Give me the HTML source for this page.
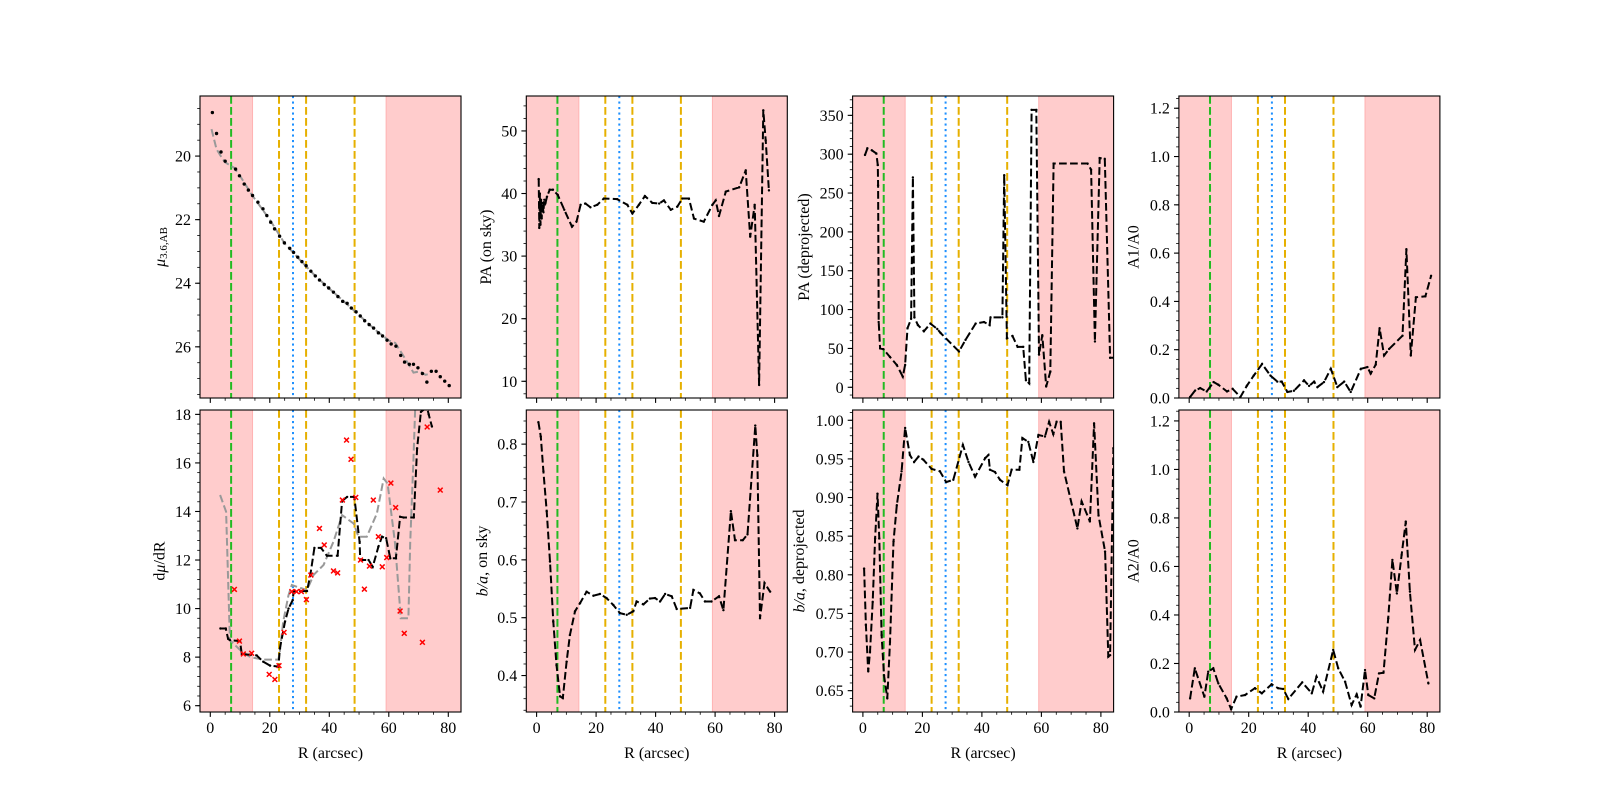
<!DOCTYPE html>
<html>
<head>
<meta charset="utf-8">
<style>
html,body{margin:0;padding:0;background:#fff;}
svg{display:block;}
text{font-family:"Liberation Serif","DejaVu Serif",serif;fill:#000;}
</style>
</head>
<body>
<svg id="fig" width="1600" height="800" viewBox="0 0 1600 800" xmlns="http://www.w3.org/2000/svg">
<rect x="0" y="0" width="1600" height="800" fill="#fff"/>
</svg>
<script>
// ---- shared markers (R in arcsec) ----
const shadeRegions = [[-10, 14.2], [59.1, 100]];
const greenLines = [7.0];
const orangeLines = [23.1, 32.2, 48.5];
const blueLines = [27.8];
const xMajorTicks = [0, 20, 40, 60, 80];

// ---- panel 1: surface brightness ----
const muPoints = [[0.7,18.63],[2.1,19.29],[3.6,19.87],[5.0,20.16],[8.5,20.41],[9.8,20.62],[11.4,20.88],[12.8,21.07],[14.2,21.24],[16.0,21.45],[17.7,21.66],[19.0,21.87],[20.3,22.08],[21.6,22.29],[23.3,22.52],[24.9,22.73],[26.7,22.90],[28.0,23.03],[29.4,23.18],[30.8,23.32],[32.2,23.45],[33.8,23.62],[35.3,23.77],[36.7,23.90],[38.3,24.04],[39.8,24.15],[41.4,24.28],[42.9,24.42],[44.5,24.57],[46.0,24.63],[47.4,24.78],[49.0,24.90],[50.4,25.03],[51.9,25.18],[53.4,25.30],[54.9,25.41],[56.5,25.56],[57.9,25.66],[59.4,25.79],[60.8,25.91],[62.4,25.98],[64.0,26.27],[65.3,26.48],[66.9,26.55],[68.3,26.55],[69.8,26.66],[71.3,26.84],[72.8,27.11],[74.3,26.77],[75.9,26.77],[77.3,26.94],[78.8,27.08],[80.3,27.22]];
const muModel = [[0.4,19.15],[2.1,19.78],[3.8,20.04],[5,20.2],[8,20.37],[10,20.62],[14,21.22],[20,22.0],[25,22.75],[30,23.25],[35,23.74],[40,24.17],[45,24.58],[50,25.0],[55,25.43],[60,25.8],[62.2,25.88],[65,26.3],[68.3,26.81],[70.6,26.77],[72.3,26.88],[74,26.85]];

// ---- panel 2: PA on sky ----
const paSky = [[0.7,42.3],[0.9,34.5],[1.1,40],[1.3,35],[1.5,39],[1.7,36],[2.0,38.5],[2.3,37],[2.6,39],[3.0,38.5],[3.5,39.5],[4.4,40.6],[5.5,40.6],[7.1,39.8],[9.3,37.4],[11.9,34.7],[13.4,35.5],[14.8,38.2],[16.4,38.4],[18.1,37.8],[20.4,38.2],[22.6,39.2],[27.1,39.1],[30.5,38.2],[32.2,36.8],[34.4,38.2],[36.4,39.6],[38.9,38.5],[41.2,38.4],[42.8,38.9],[45.1,37.4],[47.3,37.9],[49.0,39.2],[51.2,39.2],[52.9,36.0],[56.2,35.5],[59.1,38.2],[60.2,38.9],[61.3,36.4],[63.6,40.3],[68.1,41.0],[70.3,43.7],[71.8,33.1],[73.3,38.2],[74.8,9.4],[76.2,53.3],[77.0,48.5],[78.1,40.5]];

// ---- panel 3: PA deprojected ----
const paDeproj = [[0.7,299],[1.5,307.5],[3.0,305],[4.5,301],[5.0,286],[5.1,260],[5.3,84],[5.8,50],[6.9,49],[9.1,39],[11.4,28.7],[13.4,13.7],[14.2,28.7],[15.0,76],[16.2,88],[16.8,270],[17.3,90],[18.5,80],[20.5,72],[22.7,82],[25.0,75],[26.1,70],[32.3,46],[34.5,61],[37.9,82],[40.7,84],[42.6,80],[42.9,90],[46.9,90],[47.5,273],[48.4,63],[50.3,66],[52,52],[53.9,52],[54.8,9],[55.9,5],[56.7,357],[58.3,357],[59.2,42],[60.3,67],[61.6,1],[63.0,20],[64.1,288],[75.5,288],[76.7,280],[78.0,59],[79.6,295],[81.3,294],[83.1,38],[84.8,38]];

// ---- panel 4: A1/A0 ----
const a1a0 = [[0.3,0.004],[2.0,0.031],[3.7,0.041],[5.9,0.027],[8.2,0.066],[9.8,0.055],[12.7,0.027],[14.6,0.038],[17.2,0.004],[19.4,0.051],[21.7,0.093],[24.5,0.141],[27.3,0.093],[29.6,0.068],[31.1,0.068],[33.0,0.025],[35.2,0.03],[38.6,0.073],[40.3,0.05],[42.0,0.068],[43.1,0.045],[45.3,0.066],[47.6,0.121],[49.8,0.045],[52.1,0.068],[54.3,0.025],[57.7,0.121],[59.9,0.128],[61.0,0.101],[62.7,0.138],[64.0,0.289],[65.5,0.176],[67.2,0.203],[71.7,0.258],[73.0,0.616],[74.5,0.176],[76.2,0.417],[79.4,0.421],[81.3,0.506]];

// ---- panel 5: dmu/dR ----
const dmuStep = [[3.4,9.18],[5.2,9.18],[6.0,8.75],[6.6,8.7],[10.0,8.66],[10.6,8.12],[13.4,8.1],[15.6,8.07],[17.8,7.81],[20.1,7.65],[22.9,7.61],[23.4,8.36],[25.1,9.46],[26.3,10.0],[27.7,10.35],[28.0,10.72],[32.5,10.72],[33.6,11.38],[35.0,12.5],[37.2,12.5],[39.2,12.18],[42.8,12.18],[44.3,14.43],[46.0,14.6],[48.4,14.6],[50.2,12.75],[50.4,12.0],[53.2,12.0],[54.6,11.72],[56.5,12.55],[57.7,12.96],[59.1,12.9],[60.5,12.07],[62.4,12.07],[63.8,13.78],[65.0,13.75],[68.4,13.75],[69.5,16.6],[70.8,18.1],[72.8,18.3],[73.4,18.0],[74.5,17.5]];
const dmuModel = [[3.3,14.68],[5.3,13.99],[6.6,8.7],[10.0,8.3],[13.4,8.0],[17.8,7.9],[22.9,7.9],[23.4,8.25],[24.5,9.46],[26.3,10.55],[27.4,10.97],[29.0,10.9],[32.5,10.76],[34.7,11.38],[38.1,11.8],[41.4,12.76],[44.3,13.85],[48.2,13.5],[49.8,12.96],[52.6,12.96],[56.0,13.92],[58.3,15.36],[59.6,15.15],[62.1,12.7],[63.8,10.0],[64.0,9.6],[66.6,9.6],[67.2,12.7],[68.3,16.2],[68.9,18.4]];
const dmuRaw = [[8.1,10.79],[9.8,8.66],[11.1,8.13],[13.9,8.16],[19.8,7.29],[21.7,7.08],[23.1,7.65],[24.8,9.02],[27.4,10.7],[29.0,10.7],[30.6,10.7],[32.3,10.37],[33.8,11.38],[36.7,13.3],[38.3,12.62],[41.4,11.55],[42.8,11.47],[44.4,14.47],[45.8,16.94],[47.3,16.15],[48.9,14.58],[50.5,12.0],[51.8,10.8],[53.5,11.75],[54.8,14.47],[56.5,12.96],[57.8,11.72],[59.3,12.1],[60.7,15.17],[62.3,14.16],[63.8,9.9],[65.2,8.98],[71.3,8.61],[72.9,17.48],[77.3,14.88]];

// ---- panel 6: b/a on sky ----
const baSky = [[0.6,0.838],[1.4,0.813],[2.3,0.753],[3.4,0.684],[4.5,0.597],[5.6,0.493],[6.7,0.418],[7.9,0.364],[8.8,0.361],[10.1,0.424],[11.2,0.470],[12.9,0.511],[14.6,0.525],[16.8,0.545],[19.1,0.538],[21.3,0.541],[23.5,0.534],[25.8,0.522],[28.0,0.508],[30.3,0.505],[32.5,0.511],[33.6,0.528],[35.9,0.523],[38.1,0.533],[39.8,0.534],[41.5,0.528],[43.2,0.541],[45.4,0.537],[47.1,0.515],[51.6,0.517],[52.7,0.548],[54.9,0.542],[56.6,0.528],[58.8,0.528],[61.3,0.537],[62.8,0.513],[65.3,0.684],[66.7,0.634],[69.3,0.634],[70.9,0.644],[73.5,0.832],[74.2,0.781],[75.1,0.499],[76.6,0.56],[78.5,0.545]];

// ---- panel 7: b/a deprojected ----
const baDeproj = [[0.4,0.808],[1.0,0.735],[1.8,0.675],[2.4,0.70],[3.3,0.765],[4.1,0.847],[4.9,0.905],[5.5,0.847],[6.3,0.722],[7.1,0.67],[8.2,0.64],[9.1,0.713],[10.3,0.843],[11.4,0.89],[13.0,0.934],[14.2,0.99],[15.8,0.955],[17.2,0.946],[18.7,0.953],[20.3,0.949],[23.1,0.937],[25.9,0.934],[28.0,0.92],[30.4,0.923],[33.6,0.968],[35.5,0.946],[37.7,0.927],[41.1,0.951],[42.2,0.955],[42.7,0.936],[44.4,0.933],[46.1,0.923],[48.6,0.916],[50.0,0.936],[52.6,0.936],[53.6,0.977],[55.6,0.972],[57.3,0.946],[59.0,0.981],[61.2,0.979],[62.6,0.998],[64.0,0.982],[65.1,0.998],[66.5,0.998],[67.6,0.934],[72.1,0.86],[73.5,0.895],[76.3,0.869],[77.7,0.996],[79.2,0.877],[81.4,0.83],[82.5,0.694],[83.1,0.696],[84.2,0.964]];

// ---- panel 8: A2/A0 ----
const a2a0 = [[0.3,0.056],[1.9,0.18],[5.1,0.063],[6.4,0.166],[8.1,0.18],[9.8,0.118],[12.6,0.056],[14.1,0.012],[15.9,0.063],[18.8,0.07],[22.1,0.098],[24.4,0.077],[27.7,0.114],[29.9,0.098],[31.6,0.095],[33.3,0.054],[38.0,0.122],[41.2,0.077],[42.8,0.146],[45.0,0.084],[48.4,0.256],[50.1,0.18],[52.4,0.125],[54.6,0.029],[56.3,0.073],[57.6,0.022],[59.1,0.173],[60.2,0.07],[62.2,0.056],[63.8,0.159],[65.3,0.162],[66.9,0.386],[68.3,0.627],[69.8,0.489],[71.4,0.647],[72.8,0.785],[74.2,0.496],[75.9,0.256],[77.6,0.297],[80.4,0.118]];

const NS = 'http://www.w3.org/2000/svg';
const fig = document.getElementById('fig');
const XMIN = -3.46, XMAX = 84.27;

function mk(tag, attrs, parent) {
  const e = document.createElementNS(NS, tag);
  for (const k in attrs) e.setAttribute(k, attrs[k]);
  (parent || fig).appendChild(e);
  return e;
}

function drawPanel(cfg) {
  const L = 200 + cfg.col * 326.3, W = 261;
  const T = cfg.row === 0 ? 96 : 410, H = 302;
  const g = mk('g', {});
  
  
  const sx = v => L + (v - XMIN) / (XMAX - XMIN) * W;
  const sy = cfg.invert
    ? v => T + (v - cfg.ymin) / (cfg.ymax - cfg.ymin) * H
    : v => T + H - (v - cfg.ymin) / (cfg.ymax - cfg.ymin) * H;
  const cid = 'clip-' + cfg.name;
  const defs = mk('defs', {}, g);
  const cp = mk('clipPath', { id: cid }, defs);
  mk('rect', { x: L, y: T, width: W, height: H }, cp);
  const plot = mk('g', { 'clip-path': 'url(#' + cid + ')' }, g);

  shadeRegions.forEach(r => {
    const x0 = Math.max(sx(r[0]), L), x1 = Math.min(sx(r[1]), L + W);
    const s = mk('rect', { x: x0, y: T, width: x1 - x0, height: H, fill: '#ffcccc', stroke: '#ffb3b3', 'stroke-width': 1 }, plot);
    
    
  });
  const vline = (v, color, dash, nm) => {
    const l = mk('line', { x1: sx(v), x2: sx(v), y1: T, y2: T + H, stroke: color, 'stroke-width': 2, 'stroke-dasharray': dash }, plot);
    
    
  };
  greenLines.forEach(v => vline(v, '#22bb22', '7.7 3.3', 'green-radius-line'));
  orangeLines.forEach(v => vline(v, '#e6b000', '7.7 3.3', 'orange-radius-line'));
  blueLines.forEach(v => vline(v, '#1e90ff', '2.1 3.4', 'blue-radius-line'));

  const pathOf = pts => pts.map((p, i) => (i ? 'L' : 'M') + sx(p[0]).toFixed(1) + ',' + sy(p[1]).toFixed(1)).join('');
  (cfg.lines || []).forEach(ln => {
    const p = mk('path', { d: pathOf(ln.data), fill: 'none', stroke: ln.color, 'stroke-width': 2, 'stroke-dasharray': '7.7 3.3' }, plot);
    
    
    if (ln.dots) {
      ln.data.forEach(pt => {
        const c = mk('circle', { cx: sx(pt[0]), cy: sy(pt[1]), r: ln.dotR || 1.2, fill: '#000' }, plot);
        
        
      });
    }
  });
  (cfg.dots || []).forEach(ds => {
    ds.data.forEach(pt => {
      const c = mk('circle', { cx: sx(pt[0]), cy: sy(pt[1]), r: 1.7, fill: '#000' }, plot);
      
      
    });
  });
  (cfg.crosses || []).forEach(cs => {
    cs.data.forEach(pt => {
      const x = sx(pt[0]), y = sy(pt[1]), d = 2.4;
      const c = mk('path', { d: `M${x-d},${y-d}L${x+d},${y+d}M${x-d},${y+d}L${x+d},${y-d}`, stroke: '#ff0000', 'stroke-width': 1.5 }, plot);
      
      
    });
  });

  // frame
  const fr = mk('rect', { x: L, y: T, width: W, height: H, fill: 'none', stroke: '#000', 'stroke-width': 1.1 }, g);
  
  

  // x ticks
  for (let v = 0; v <= 80.001; v += 5) {
    const major = v % 20 === 0;
    const x = sx(v);
    mk('line', { x1: x, x2: x, y1: T + H, y2: T + H + (major ? 4.9 : 2.8), stroke: '#000', 'stroke-width': major ? 1.1 : 0.8 }, g);
  }
  if (cfg.row === 1) {
    xMajorTicks.forEach(v => {
      const t = mk('text', { x: sx(v), y: T + H + 21, 'text-anchor': 'middle', 'font-size': 16 }, g);
      t.textContent = String(v);
      
      
    });
    const xl = mk('text', { x: L + W / 2, y: T + H + 46, 'text-anchor': 'middle', 'font-size': 16 }, g);
    xl.textContent = 'R (arcsec)';
    
    
  }
  // y ticks
  const lo = Math.min(cfg.ymin, cfg.ymax), hi = Math.max(cfg.ymin, cfg.ymax);
  const nMin = Math.ceil(lo / cfg.minor - 1e-6), nMax = Math.floor(hi / cfg.minor + 1e-6);
  for (let n = nMin; n <= nMax; n++) {
    const v = n * cfg.minor;
    const y = sy(v);
    mk('line', { x1: L, x2: L - 2.8, y1: y, y2: y, stroke: '#000', 'stroke-width': 0.8 }, g);
  }
  cfg.yticks.forEach(v => {
    const y = sy(v);
    mk('line', { x1: L, x2: L - 4.9, y1: y, y2: y, stroke: '#000', 'stroke-width': 1.1 }, g);
    const t = mk('text', { x: L - 9, y: y + 5.5, 'text-anchor': 'end', 'font-size': 16 }, g);
    t.textContent = v.toFixed(cfg.dec);
    
    
  });
  const yx = L + cfg.labelDx, yy = T + H / 2;
  const yl = mk('text', { x: yx, y: yy, 'text-anchor': 'middle', 'font-size': 16, 'dominant-baseline': 'central', transform: `rotate(-90 ${yx} ${yy})` }, g);
  yl.innerHTML = cfg.ylabel;
  
  
}

const rng = (a, b, s) => { const r = []; for (let v = a; v <= b + 1e-9; v += s) r.push(Math.round(v * 1000) / 1000); return r; };

drawPanel({ name: 'surface-brightness-panel', row: 0, col: 0, ymin: 18.11, ymax: 27.61, invert: true, yticks: [20, 22, 24, 26], minor: 0.5, dec: 0, labelDx: -40,
  ylabel: '<tspan font-style="italic">μ</tspan><tspan font-size="11" dy="4">3.6,AB</tspan>',
  lines: [{ name: 'mu-model-line', data: muModel, color: '#999999' }],
  dots: [{ name: 'mu-data-point', data: muPoints }] });
drawPanel({ name: 'pa-sky-panel', row: 0, col: 1, ymin: 7.33, ymax: 55.58, yticks: [10, 20, 30, 40, 50], minor: 2, dec: 0, labelDx: -40,
  ylabel: 'PA (on sky)', lines: [{ name: 'pa-sky-line', data: paSky, color: '#000', dots: true }] });
drawPanel({ name: 'pa-deprojected-panel', row: 0, col: 2, ymin: -13.8, ymax: 374.9, yticks: rng(0, 350, 50), minor: 10, dec: 0, labelDx: -48,
  ylabel: 'PA (deprojected)', lines: [{ name: 'pa-deprojected-line', data: paDeproj, color: '#000', dots: true }] });
drawPanel({ name: 'a1-a0-panel', row: 0, col: 3, ymin: 0, ymax: 1.2507, yticks: rng(0, 1.2, 0.2), minor: 0.04, dec: 1, labelDx: -45,
  ylabel: 'A1/A0', lines: [{ name: 'a1-a0-line', data: a1a0, color: '#000', dots: true }] });
drawPanel({ name: 'dmu-dr-panel', row: 1, col: 0, ymin: 5.74, ymax: 18.18, yticks: rng(6, 18, 2), minor: 0.4, dec: 0, labelDx: -40,
  ylabel: 'd<tspan font-style="italic">μ</tspan>/dR',
  lines: [{ name: 'dmu-model-line', data: dmuModel, color: '#999999' }, { name: 'dmu-step-line', data: dmuStep, color: '#000', dots: true }],
  crosses: [{ name: 'dmu-raw-marker', data: dmuRaw }] });
drawPanel({ name: 'ba-sky-panel', row: 1, col: 1, ymin: 0.337, ymax: 0.859, yticks: rng(0.4, 0.8, 0.1), minor: 0.02, dec: 1, labelDx: -44,
  ylabel: '<tspan font-style="italic">b/a</tspan>, on sky', lines: [{ name: 'ba-sky-line', data: baSky, color: '#000', dots: true }] });
drawPanel({ name: 'ba-deprojected-panel', row: 1, col: 2, ymin: 0.6224, ymax: 1.0133, yticks: rng(0.65, 1.0, 0.05), minor: 0.01, dec: 2, labelDx: -53,
  ylabel: '<tspan font-style="italic">b/a</tspan>, deprojected', lines: [{ name: 'ba-deprojected-line', data: baDeproj, color: '#000', dots: true }] });
drawPanel({ name: 'a2-a0-panel', row: 1, col: 3, ymin: 0, ymax: 1.245, yticks: rng(0, 1.2, 0.2), minor: 0.04, dec: 1, labelDx: -45,
  ylabel: 'A2/A0', lines: [{ name: 'a2-a0-line', data: a2a0, color: '#000', dots: true }] });
</script>
</body>
</html>
